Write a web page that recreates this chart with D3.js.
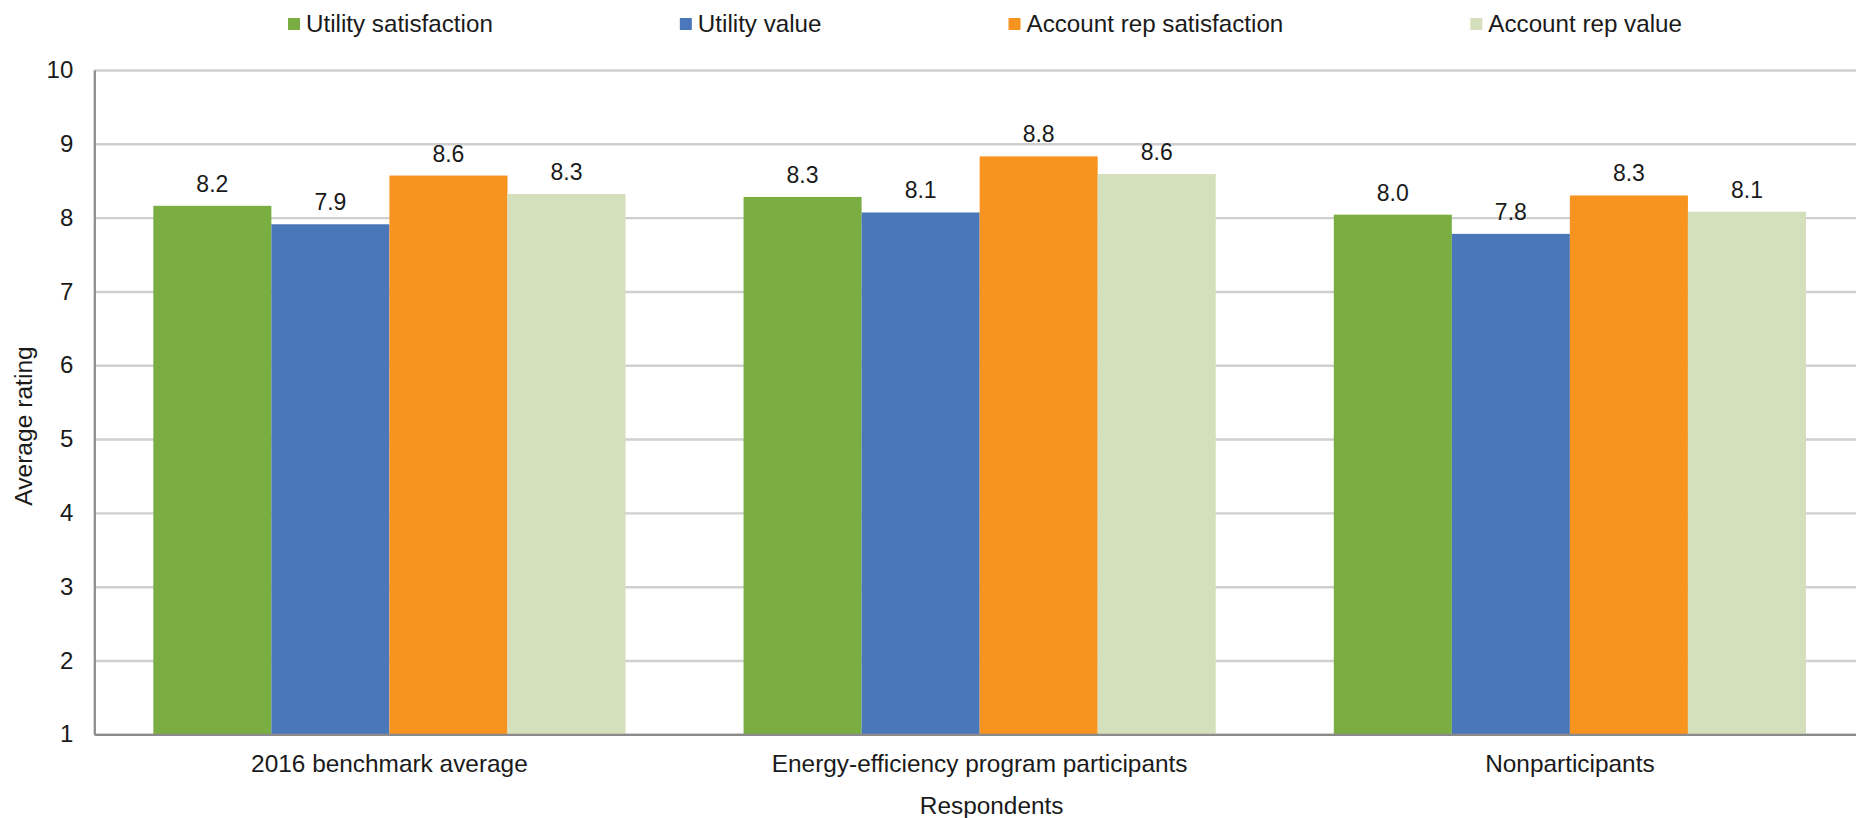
<!DOCTYPE html>
<html>
<head>
<meta charset="utf-8">
<script src="https://cdn.jsdelivr.net/npm/d3@7"></script>
<style>
  html, body { margin: 0; padding: 0; background: #fff; }
  svg { display: block; font-family: "Liberation Sans", Arial, sans-serif; }
</style>
</head>
<body>
<svg id="chart" width="1856" height="818"></svg>
<script>
// Respondent groups along the x axis
const categories = ["2016 benchmark average", "Energy-efficiency program participants", "Nonparticipants"];

// Rating series (one value per respondent group)
const seriesNames = ["Utility satisfaction", "Utility value", "Account rep satisfaction", "Account rep value"];
const utilitySatisfaction = [8.16, 8.28, 8.04];
const utilityValue = [7.91, 8.07, 7.78];
const accountRepSatisfaction = [8.57, 8.83, 8.30];
const accountRepValue = [8.32, 8.59, 8.08];
const seriesColors = ["#7bae42", "#4a77ba", "#f7941f", "#d4dfbc"];

// Y axis tick values
const yTicks = [1, 2, 3, 4, 5, 6, 7, 8, 9, 10];

const seriesValues = [utilitySatisfaction, utilityValue, accountRepSatisfaction, accountRepValue];

const svg = d3.select("#chart");
const margin = { left: 94.3, top: 70, bottom: 734.3 };
const plotRight = 1865;

const x0 = d3.scaleBand().domain(categories).range([margin.left, plotRight]).padding(0);
const x1 = d3.scaleBand().domain(seriesNames)
  .range([x0.bandwidth() * 0.1, x0.bandwidth() * 0.9]).padding(0);
const y = d3.scaleLinear().domain([1, 10]).range([margin.bottom, margin.top]);

const textColor = "#1a1a1a";
const fontFamily = "'Liberation Sans', Arial, sans-serif";

// Horizontal gridlines
svg.append("g")
  .attr("class", "grid")
  .attr("transform", `translate(${margin.left},0)`)
  .call(d3.axisLeft(y).tickValues(yTicks).tickSize(-(plotRight - margin.left)).tickFormat(""))
  .call(g => g.select(".domain").remove())
  .call(g => g.selectAll("line").attr("stroke", "#cfcfcf").attr("stroke-width", 2.4));

// Bars
const groups = svg.append("g").selectAll("g")
  .data(categories)
  .join("g")
  .attr("transform", d => `translate(${x0(d)},0)`);

groups.selectAll("rect")
  .data((c, i) => seriesNames.map((s, k) => ({ series: s, value: seriesValues[k][i], color: seriesColors[k] })))
  .join("rect")
  .attr("x", d => x1(d.series))
  .attr("width", x1.bandwidth())
  .attr("y", d => y(d.value))
  .attr("height", d => y(1) - y(d.value))
  .attr("fill", d => d.color);

// Value labels above bars
groups.selectAll("text.value")
  .data((c, i) => seriesNames.map((s, k) => ({ series: s, value: seriesValues[k][i] })))
  .join("text")
  .attr("class", "value")
  .attr("x", d => x1(d.series) + x1.bandwidth() / 2)
  .attr("y", d => y(d.value) - 14)
  .attr("text-anchor", "middle")
  .attr("font-size", 23)
  .attr("fill", textColor)
  .text(d => d3.format(".1f")(d.value));

// Y axis
svg.append("g")
  .attr("transform", `translate(${margin.left},0)`)
  .call(d3.axisLeft(y).tickValues(yTicks).tickSize(0).tickPadding(21).tickFormat(d3.format("d")))
  .call(g => g.select(".domain").attr("stroke", "#8a8a8a").attr("stroke-width", 2.2))
  .call(g => g.selectAll("text").attr("font-size", 24).attr("fill", textColor)
    .attr("font-family", fontFamily));

// X axis baseline and category labels
svg.append("g")
  .attr("transform", `translate(0,${margin.bottom})`)
  .call(d3.axisBottom(x0).tickSize(0).tickPadding(0))
  .call(g => g.select(".domain").attr("stroke", "#8a8a8a").attr("stroke-width", 2.2))
  .call(g => g.selectAll("text").attr("font-size", 24.4).attr("fill", textColor)
    .attr("dy", null).attr("y", 37.5)
    .attr("font-family", fontFamily));

// Axis titles
svg.append("text")
  .attr("x", (margin.left + plotRight) / 2 + 12)
  .attr("y", 814)
  .attr("text-anchor", "middle")
  .attr("font-size", 24.4)
  .attr("fill", textColor)
  .text("Respondents");

svg.append("text")
  .attr("transform", "translate(32,426) rotate(-90)")
  .attr("text-anchor", "middle")
  .attr("font-size", 24.6)
  .attr("fill", textColor)
  .text("Average rating");

// Legend
const legend = svg.append("g").attr("class", "legend");
let lx = 288;
seriesNames.forEach((name, k) => {
  const item = legend.append("g").attr("transform", `translate(${lx},0)`);
  item.append("rect").attr("x", 0).attr("y", 18).attr("width", 12).attr("height", 12)
    .attr("fill", seriesColors[k]);
  const t = item.append("text").attr("x", 18).attr("y", 32)
    .attr("font-size", 24.2).attr("fill", textColor).text(name);
  lx += 18 + t.node().getComputedTextLength() + 187;
});
</script>
</body>
</html>
